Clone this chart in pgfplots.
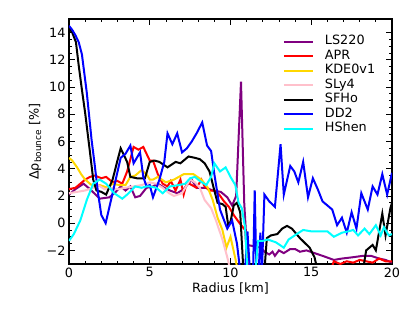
\documentclass[border=0pt]{standalone}
\usepackage{fontspec}
\setmainfont{DejaVu Sans}
\usepackage{pgfplots}
\pgfplotsset{compat=1.18}
\definecolor{mplpurple}{HTML}{800080}
\definecolor{mplgold}{HTML}{FFD700}
\definecolor{mplpink}{HTML}{FFC0CB}
\definecolor{mplcyan}{HTML}{00FFFF}
\begin{document}
\begin{tikzpicture}
\useasboundingbox (-69pt,-47pt) rectangle (346pt,264pt);
\begin{axis}[
  at={(0pt,0pt)}, anchor=south west,
  scale only axis, width=323pt, height=245pt,
  xmin=0, xmax=20, ymin=-3, ymax=15,
  xtick={0,5,10,15,20},
  ytick={-2,0,2,4,6,8,10,12,14},
  yticklabels={−2,0,2,4,6,8,10,12,14},
  minor x tick num=4, minor y tick num=3,
  tick align=inside, ticks=both,
  xtick pos=both, ytick pos=both,
  major tick length=6pt, minor tick length=3pt,
  tick style={line width=0.8pt, black},
  axis line style={line width=1.1pt},
  /pgf/number format/assume math mode=true,
  tick label style={font=\fontsize{12.8}{15}\selectfont},
  label style={font=\fontsize{12.8}{15}\selectfont},
  xlabel={Radius [km]},
  ylabel={Δρ\textsubscript{bounce} [\%]},
  xlabel style={at={(axis description cs:0.5,-0.098)}, anchor=center},
  ylabel style={at={(axis description cs:-0.105,0.5)}, anchor=center},
  legend style={at={(rel axis cs:0.6625,0.936)}, anchor=north west,
    draw=none, fill=none, inner sep=0pt, outer sep=0pt,
    font=\fontsize{12.8}{15}\selectfont,
    nodes={inner sep=0pt, text height=10pt, text depth=4.5pt, anchor=west},
    column sep=11pt},
  legend cell align=left,
  legend image code/.code={\draw[#1, line width=2pt] (0pt,0pt) -- (29pt,0pt);},
  every axis plot post/.append style={line width=2pt, mark=none},
]
\addplot[mplpurple] coordinates {(0,2.1) (0.4,2.5) (0.9,2.9) (1.3,2.5) (1.9,1.8) (2.5,1.9) (2.9,2.3) (3.2,2.7) (3.5,2.4) (3.8,2.7) (4.1,1.9) (4.4,2.0) (4.8,2.6) (5.2,2.7) (5.5,2.9) (5.9,2.6) (6.25,2.4) (6.7,2.2) (7.1,2.5) (7.6,3.2) (7.9,2.6) (8.5,2.6) (8.9,2.4) (9.4,2.3) (9.8,1.9) (10.1,1.3) (10.35,2.0) (10.65,10.4) (10.85,1.5) (11.0,-1.6) (11.5,-1.7) (11.9,-1.8) (12.1,-2.1) (12.4,-2.3) (12.6,-2.1) (12.75,-2.4) (13.0,-2.0) (13.3,-2.2) (13.7,-1.9) (14.0,-1.9) (14.3,-2.1) (14.7,-2.0) (15.2,-2.2) (15.7,-2.4) (16.4,-2.7) (16.9,-2.6) (17.6,-2.5) (18.2,-2.4) (18.7,-2.4) (19.2,-2.6) (19.6,-2.7) (20,-2.9)};
\addlegendentry{LS220}
\addplot[red] coordinates {(0,2.5) (0.4,2.6) (0.7,2.9) (1.0,3.2) (1.3,3.4) (1.6,3.5) (2.0,3.3) (2.3,3.4) (2.7,3.0) (3.0,3.1) (3.3,2.9) (3.6,3.8) (4.0,5.6) (4.3,5.4) (4.6,5.6) (5.0,4.6) (5.2,4.6) (5.5,3.6) (5.8,2.9) (6.1,2.7) (6.3,3.1) (6.6,2.4) (6.9,3.2) (7.1,2.1) (7.3,3.0) (7.6,2.8) (7.9,2.6) (8.2,3.2) (8.4,2.7) (8.7,2.4) (9.0,2.4) (9.3,2.1) (9.6,1.6) (9.9,1.2) (10.2,0.6) (10.5,0.1) (10.9,-0.5) (11.1,-3.5) (16.2,-3.5) (16.4,-2.8) (16.8,-3.0) (17.2,-2.8) (17.6,-2.9) (18.0,-2.7) (18.4,-2.8) (18.8,-2.9) (19.2,-2.6) (19.6,-2.8) (20,-2.8)};
\addlegendentry{APR}
\addplot[mplgold] coordinates {(0,4.8) (0.2,4.6) (0.5,4.1) (0.75,3.6) (1.0,3.2) (1.3,2.9) (1.5,2.7) (1.9,2.8) (2.4,2.6) (2.7,2.9) (3.1,2.8) (3.5,2.8) (3.8,3.4) (4.1,3.5) (4.5,3.9) (4.8,3.6) (5.0,3.2) (5.2,3.2) (5.5,3.4) (6.0,3.0) (6.5,3.2) (7.1,3.6) (7.7,3.6) (8.2,3.2) (8.6,2.6) (8.9,1.7) (9.2,0.4) (9.5,-0.5) (9.75,-1.8) (10.0,-1.0) (10.3,-2.6) (10.45,-3.5)};
\addlegendentry{KDE0v1}
\addplot[mplpink] coordinates {(0,2.2) (0.5,2.3) (1.0,2.4) (1.5,2.6) (1.8,2.8) (2.2,2.5) (2.6,2.6) (3.0,2.5) (3.5,2.6) (4.0,2.7) (4.5,2.8) (5.0,3.0) (5.4,2.9) (5.8,2.6) (6.2,2.2) (6.5,2.0) (7.0,2.2) (7.5,3.2) (7.8,3.0) (8.1,2.6) (8.4,1.7) (8.8,1.1) (9.1,0.2) (9.5,-1.2) (9.8,-2.5) (10.0,-3.5)};
\addlegendentry{SLy4}
\addplot[black] coordinates {(0,14.3) (0.2,14.0) (0.43,13.3) (0.6,11.6) (0.8,9.8) (1.0,8.1) (1.3,5.2) (1.5,3.2) (1.7,2.4) (2.0,2.3) (2.3,2.1) (2.7,3.2) (3.0,4.6) (3.2,5.5) (3.6,4.5) (3.8,3.4) (4.2,3.3) (4.7,3.3) (5.0,4.5) (5.3,4.6) (5.6,4.5) (6.1,4.1) (6.6,4.5) (6.9,4.4) (7.4,4.9) (7.8,4.8) (8.1,4.7) (8.4,4.4) (8.7,3.8) (9.0,2.4) (9.2,1.5) (9.5,1.4) (9.7,1.2) (9.85,-0.1) (10.0,0.1) (10.2,1.3) (10.4,1.5) (10.6,0.8) (10.8,-3.5) (12.1,-3.5) (12.25,-1.1) (12.5,-0.9) (12.9,-0.8) (13.2,-0.4) (13.5,-0.2) (13.8,-0.4) (14.3,-1.1) (14.9,-1.8) (15.2,-2.5) (15.4,-3.5) (18.2,-3.5) (18.4,-2.0) (18.8,-1.6) (19.0,-2.0) (19.4,0.7) (19.6,-0.9) (19.9,1.1) (20,1.5)};
\addlegendentry{SFHo}
\addplot[blue] coordinates {(0,14.5) (0.2,14.2) (0.4,13.8) (0.6,13.3) (0.8,12.4) (1.1,9.6) (1.4,6.1) (1.6,4.2) (1.8,2.2) (2.0,0.6) (2.27,0.0) (2.7,2.2) (3.2,4.8) (3.5,5.1) (3.8,5.7) (4.0,4.4) (4.4,5.2) (4.6,3.4) (4.8,2.7) (5.0,2.8) (5.2,1.9) (5.6,3.2) (5.9,4.5) (6.1,6.6) (6.4,5.8) (6.7,6.6) (7.0,5.2) (7.3,5.5) (7.6,6.0) (7.9,6.6) (8.25,7.4) (8.55,5.7) (8.8,5.3) (9.0,3.6) (9.35,1.0) (9.8,-0.4) (10.1,0.2) (10.4,-1.5) (10.6,-3.5) (10.9,-3.5) (11.05,-0.6) (11.2,-3.5) (11.4,-3.5) (11.5,2.4) (11.6,-3.5) (11.75,-3.5) (11.85,-0.7) (11.95,-3.5) (12.1,2.1) (12.4,1.6) (12.75,1.2) (13.1,5.8) (13.3,2.1) (13.7,4.2) (13.95,3.8) (14.2,3.0) (14.5,4.5) (14.8,1.9) (15.1,3.3) (15.4,2.5) (15.7,1.6) (16.0,1.3) (16.3,1.0) (16.6,-0.15) (16.9,0.4) (17.2,-0.7) (17.5,0.8) (17.8,-0.4) (18.1,2.2) (18.5,1.0) (18.8,2.7) (19.1,2.1) (19.4,3.6) (19.7,2.1) (20,3.7)};
\addlegendentry{DD2}
\addplot[mplcyan] coordinates {(0,-1.3) (0.3,-0.8) (0.7,0.2) (1.1,1.7) (1.5,2.9) (1.9,3.2) (2.3,2.9) (2.8,2.2) (3.3,1.8) (3.6,2.1) (4.1,2.7) (4.5,2.6) (4.8,2.7) (5.0,2.7) (5.4,2.6) (5.8,2.2) (6.25,2.7) (6.8,2.8) (7.2,2.9) (7.5,3.3) (7.8,3.4) (8.1,3.1) (8.5,2.8) (8.8,3.4) (9.0,4.4) (9.35,3.8) (9.7,4.1) (10.0,3.4) (10.3,2.8) (10.5,1.5) (10.7,1.1) (10.9,-0.3) (11.05,-3.5) (11.55,-3.5) (11.7,-1.3) (12.0,-1.3) (12.3,-1.2) (12.8,-1.4) (13.3,-1.8) (13.6,-1.2) (14.1,-0.8) (14.5,-0.5) (15.0,-0.6) (15.5,-0.6) (16.0,-0.6) (16.4,-1.0) (16.9,-0.7) (17.3,-0.6) (17.6,-0.5) (17.9,-0.9) (18.3,-0.4) (18.6,-0.8) (19.0,-0.15) (19.3,-0.9) (19.5,-0.3) (19.8,-0.9) (20,-0.8)};
\addlegendentry{HShen}
\end{axis}
\end{tikzpicture}
\end{document}
